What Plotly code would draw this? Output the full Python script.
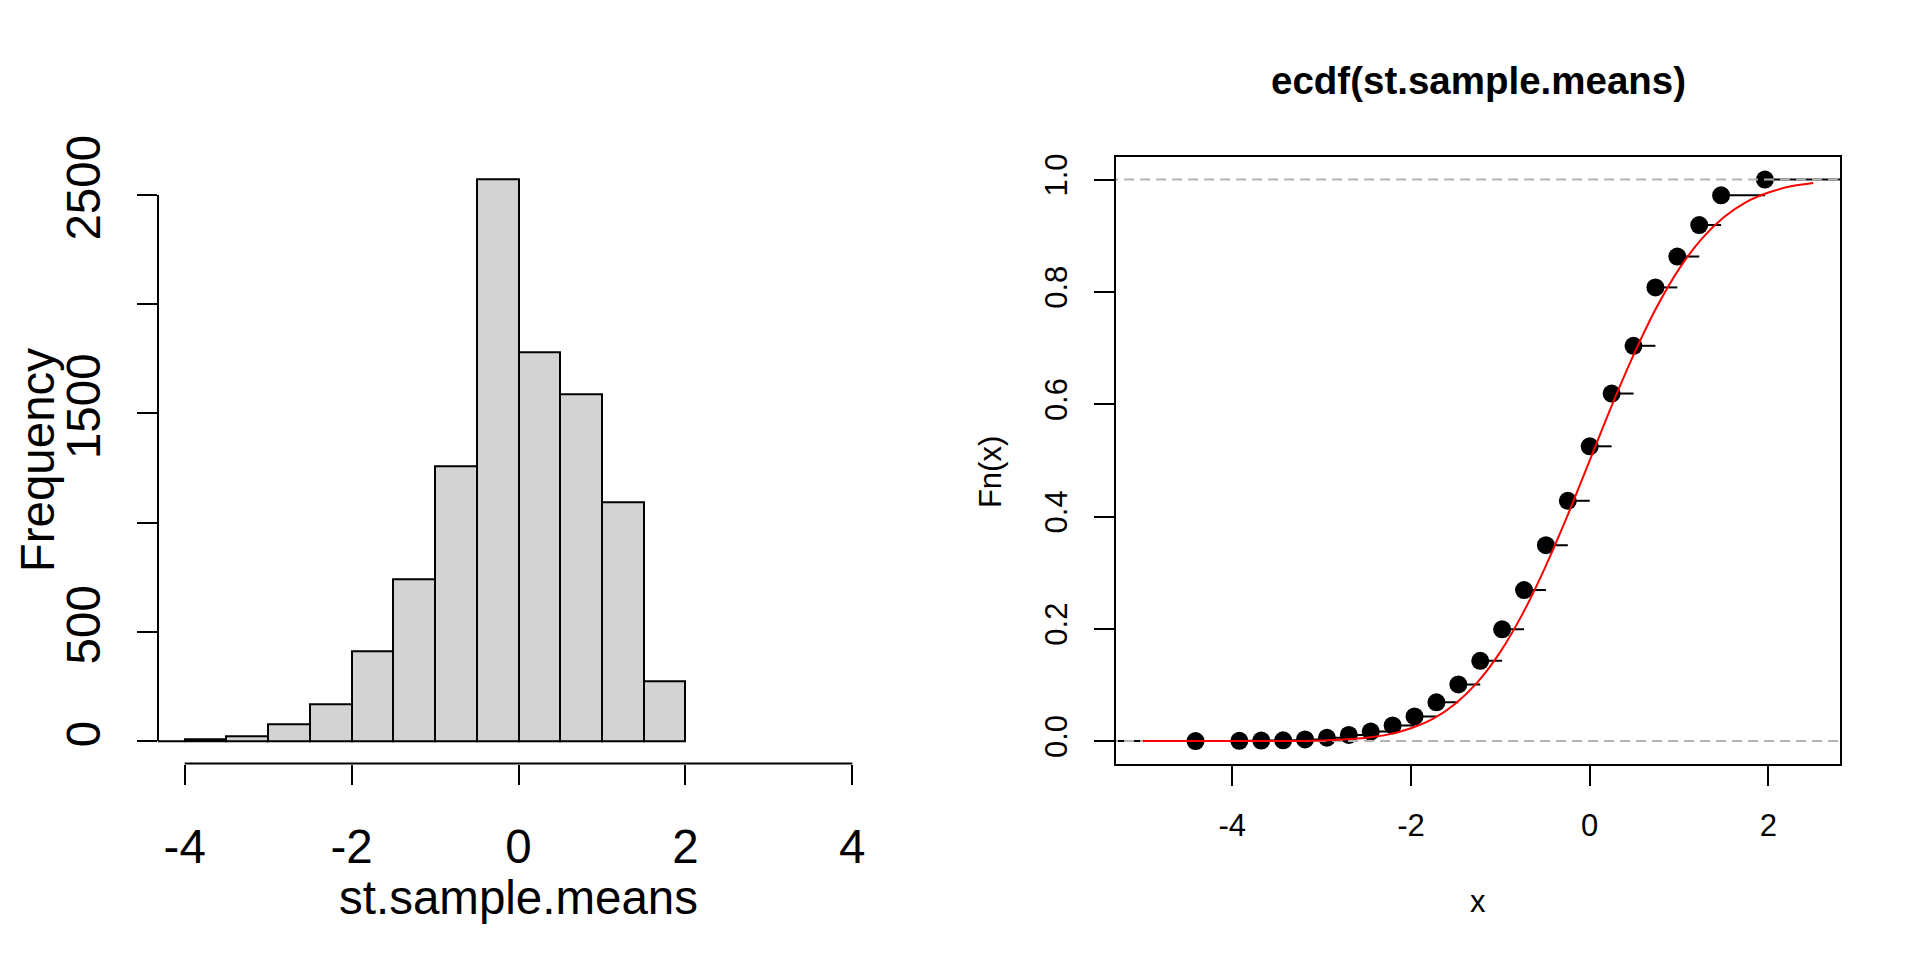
import plotly.graph_objects as go

W, H = 1920, 960

# ---------------- data ----------------
# histogram of st.sample.means (bins of width 0.5, right-closed)
bin_left = [-4.5, -4.0, -3.5, -3.0, -2.5, -2.0, -1.5, -1.0, -0.5, 0.0, 0.5, 1.0, 1.5]
counts = [2, 8, 21, 79, 167, 413, 743, 1258, 2570, 1780, 1590, 1094, 275]
bin_width = 0.5
hist_xticks = [-4, -2, 0, 2, 4]
hist_yticks = [0, 500, 1000, 1500, 2000, 2500]
hist_yticktext = ["0", "500", "", "1500", "", "2500"]

# ecdf knots and values
ecdf_x = [-4.41, -3.92, -3.675, -3.43, -3.185, -2.94, -2.695, -2.45, -2.205, -1.96,
          -1.715, -1.47, -1.225, -0.98, -0.735, -0.49, -0.245, 0.0, 0.245, 0.49,
          0.735, 0.98, 1.225, 1.47, 1.96]
ecdf_y = [0.0001, 0.0005, 0.001, 0.0015, 0.003, 0.006, 0.011, 0.017, 0.028, 0.044,
          0.069, 0.101, 0.143, 0.199, 0.269, 0.349, 0.428, 0.525, 0.619, 0.704,
          0.808, 0.863, 0.919, 0.972, 1.0]

# red reference curve
curve_x = [-5.0, -4.0, -3.5, -3.0, -2.75, -2.5, -2.25, -2.0, -1.75, -1.5, -1.25, -1.0,
           -0.75, -0.5, -0.25, 0.0, 0.25, 0.5, 0.75, 1.0, 1.25, 1.5, 1.75, 2.0, 2.25, 2.5]
curve_y = [0.0, 0.0, 0.0002, 0.0013, 0.003, 0.006, 0.012, 0.023, 0.040, 0.067, 0.106,
           0.159, 0.227, 0.309, 0.401, 0.5, 0.599, 0.691, 0.773, 0.841, 0.894, 0.933,
           0.960, 0.977, 0.988, 0.994]

ecdf_xticks = [-4, -2, 0, 2]
ecdf_yticks = [0.0, 0.2, 0.4, 0.6, 0.8, 1.0]
ecdf_yticktext = ["0.0", "0.2", "0.4", "0.6", "0.8", "1.0"]

# ---------------- layout geometry (pixels) ----------------
top_px, bot_px = 131.0, 751.0
L_x0, L_x1 = 150.0, 871.0
R_x0, R_x1 = 1108.0, 1832.0
ydom = [(H - bot_px) / H, (H - top_px) / H]

FONT = "Liberation Sans, Arial, Helvetica, sans-serif"
fsL, fsR = 47.5, 31

fig = go.Figure()

# histogram bars
fig.add_trace(go.Bar(
    x=[b + bin_width / 2 for b in bin_left], y=counts, width=bin_width,
    marker=dict(color="#D3D3D3", line=dict(color="black", width=2)),
    xaxis="x", yaxis="y", showlegend=False, hoverinfo="x+y"))

# ecdf horizontal steps
sx, sy = [], []
ext_x = [-7.0] + ecdf_x + [4.0]
ext_y = [0.0] + ecdf_y
for i in range(len(ext_y)):
    sx += [ext_x[i], ext_x[i + 1], None]
    sy += [ext_y[i], ext_y[i], None]
fig.add_trace(go.Scatter(x=sx, y=sy, mode="lines", line=dict(color="black", width=2),
                         xaxis="x2", yaxis="y2", showlegend=False, hoverinfo="skip"))
fig.add_trace(go.Scatter(x=ecdf_x, y=ecdf_y, mode="markers",
                         marker=dict(color="black", size=18, line=dict(width=0)),
                         xaxis="x2", yaxis="y2", showlegend=False))
# gray dashed reference lines at 0 and 1
fig.add_trace(go.Scatter(x=[-7, 4, None, -7, 4], y=[0, 0, None, 1, 1], mode="lines",
                         line=dict(color="#B3B3B3", width=2, dash="10px,6px"),
                         xaxis="x2", yaxis="y2", showlegend=False, hoverinfo="skip"))
# red curve
fig.add_trace(go.Scatter(x=curve_x, y=curve_y, mode="lines", line=dict(color="red", width=2, shape="spline"),
                         xaxis="x2", yaxis="y2", showlegend=False))

tick_common = dict(ticks="outside", ticklen=20, tickwidth=2, tickcolor="black",
                   showgrid=False, zeroline=False)

fig.update_layout(
    width=W, height=H, margin=dict(l=0, r=0, t=0, b=0),
    paper_bgcolor="white", plot_bgcolor="white",
    font=dict(family=FONT, color="black"),
    xaxis=dict(domain=[L_x0 / W, L_x1 / W], range=[-4.32, 4.32], tickvals=hist_xticks,
               ticktext=[str(v) for v in hist_xticks], showline=False,
               tickfont=dict(size=fsL), ticklabelstandoff=21, anchor="y", **tick_common),
    yaxis=dict(domain=ydom, range=[-0.04 * 2570, 1.04 * 2570], tickvals=hist_yticks,
               ticktext=hist_yticktext, showline=False, tickangle=-90,
               tickfont=dict(size=fsL), ticklabelstandoff=18, anchor="x", **tick_common),
    xaxis2=dict(domain=[R_x0 / W, R_x1 / W], range=[-5.3, 2.8], tickvals=ecdf_xticks,
                ticktext=[str(v) for v in ecdf_xticks], showline=True, mirror=True,
                linecolor="black", linewidth=2, tickfont=dict(size=fsR),
                ticklabelstandoff=13, anchor="y2", **tick_common),
    yaxis2=dict(domain=ydom, range=[-0.04, 1.04], tickvals=ecdf_yticks,
                ticktext=ecdf_yticktext, showline=True, mirror=True, tickangle=-90,
                linecolor="black", linewidth=2, tickfont=dict(size=fsR),
                ticklabelstandoff=15, anchor="x2", **tick_common),
    bargap=0,
)

# left axis lines (R style: only spanning the ticks)
fig.add_shape(type="line", xref="x", yref="paper", x0=-4, x1=4, y0=ydom[0], y1=ydom[0],
              line=dict(color="black", width=2))
fig.add_shape(type="line", xref="paper", yref="y", x0=L_x0 / W, x1=L_x0 / W, y0=0, y1=2500,
              line=dict(color="black", width=2))

def ann(text, xpx, ypx, size, angle=0):
    fig.add_annotation(text=text, x=xpx / W, y=(H - ypx) / H, xref="paper", yref="paper",
                       showarrow=False, textangle=angle, font=dict(size=size, family=FONT, color="black"),
                       xanchor="center", yanchor="middle")

ann("st.sample.means", (L_x0 + L_x1) / 2, 888, fsL)
ann("Frequency", 29, (top_px + bot_px) / 2, fsL, -90)
ann("x", (R_x0 + R_x1) / 2, 892, fsR)
ann("Fn(x)", 982, (top_px + bot_px) / 2 + 12, fsR, -90)
ann("<b>ecdf(st.sample.means)</b>", (R_x0 + R_x1) / 2, 53, 38.5)

fig.write_html("out.html")
